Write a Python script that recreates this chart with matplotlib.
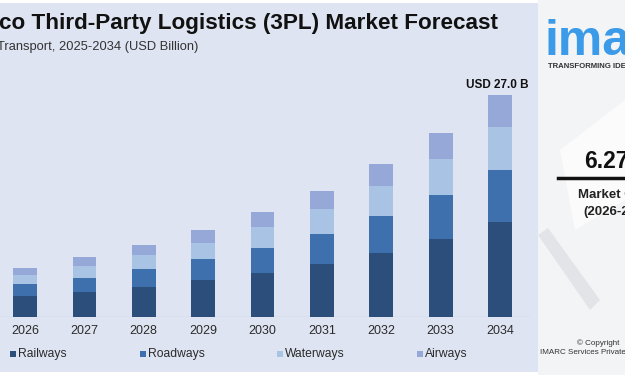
import matplotlib.pyplot as plt
import numpy as np
from matplotlib.patches import Rectangle, Polygon

# data (USD Billion)
years = ["2026", "2027", "2028", "2029", "2030", "2031", "2032", "2033", "2034"]
railways = [2.52, 3.04, 3.65, 4.47, 5.41, 6.50, 7.84, 9.55, 11.53]
roadways = [1.46, 1.75, 2.15, 2.56, 3.04, 3.62, 4.46, 5.36, 6.42]
waterways = [1.18, 1.38, 1.71, 2.03, 2.47, 3.01, 3.62, 4.30, 5.15]
airways = [0.80, 1.10, 1.30, 1.50, 1.86, 2.19, 2.72, 3.20, 3.90]
segments = ["Railways", "Roadways", "Waterways", "Airways"]
colors = ["#2c4e7b", "#3e70ad", "#a8c3e4", "#96a8d8"]
total_label = "USD 27.0 B"

W, H = 625, 375
plt.rcParams['font.family'] = ['Liberation Sans', 'DejaVu Sans']


def fx(x):
    return x / W


def fy(y):
    return 1 - y / H


fig = plt.figure(figsize=(6.25, 3.75), dpi=100)
fig.patch.set_facecolor("white")

# panels (behind the axes)
fig.patches.append(Rectangle((fx(0), fy(372)), fx(538), 369 / H, transform=fig.transFigure,
                             facecolor="#dee4f2", edgecolor="none", zorder=-3))
fig.patches.append(Rectangle((fx(538), 0), fx(87), 1, transform=fig.transFigure,
                             facecolor="#f3f4f6", edgecolor="none", zorder=-3))
fig.patches.append(Polygon([(fx(538), fy(235)), (fx(548), fy(228)), (fx(600), fy(300)), (fx(590), fy(310))],
                           closed=True, transform=fig.transFigure, facecolor="#e2e4e8", edgecolor="none",
                           zorder=-2))
fig.patches.append(Polygon([(fx(560), fy(150)), (fx(625), fy(100)), (fx(625), fy(200)), (fx(575), fy(230))],
                           closed=True, transform=fig.transFigure, facecolor="#fbfbfc", edgecolor="none",
                           zorder=-2))

# bar axes
ax = fig.add_axes([fx(0), fy(317), fx(530), (317 - 60) / H])
ax.set_facecolor("none")
x = np.arange(len(years))
bottom = np.zeros(len(years))
for vals, c in zip([railways, roadways, waterways, airways], colors):
    ax.bar(x, vals, width=0.4, bottom=bottom, color=c, zorder=2)
    bottom += np.array(vals)

ax.set_xlim(-25 / 59.375, 505 / 59.375)
ax.set_ylim(0, 257 / 8.21)
ax.axhline(0, color="#c9cfdc", linewidth=1, zorder=1)
for s in ax.spines.values():
    s.set_visible(False)
ax.set_yticks([])
ax.set_xticks(x)
ax.set_xticklabels(years, fontsize=9, color="#2b2b2b")
ax.tick_params(axis="x", length=0, pad=6)

ax.text(x[-1] - 0.05, bottom[-1] + 0.5, total_label, ha="center", va="bottom",
        fontsize=8.5, fontweight="bold", color="#111111")

# title
fig.text(fx(-1), fy(23), "co Third-Party Logistics (3PL) Market Forecast", ha="left", va="center",
         fontsize=16.2, fontweight="bold", color="#111111")
fig.text(fx(-3), fy(47), "Transport, 2025-2034 (USD Billion)", ha="left", va="center",
         fontsize=9.3, color="#333333")

# legend
leg_x = [10, 140, 277, 417]
for lx, name, c in zip(leg_x, segments, colors):
    fig.patches.append(Rectangle((fx(lx), fy(357)), fx(6), 6 / H, transform=fig.transFigure,
                                 facecolor=c, edgecolor="none"))
    fig.text(fx(lx + 8), fy(353.5), name, ha="left", va="center", fontsize=8.7, color="#2b2b2b")

# right panel
fig.text(fx(545), fy(55), "imarc", ha="left", va="baseline", fontsize=36, fontweight="bold",
         color="#3c9be8")
fig.text(fx(548), fy(67), "TRANSFORMING IDEAS INTO IMPACT", ha="left", va="center",
         fontsize=5.6, fontweight="bold", color="#333333")
fig.text(fx(584), fy(161), "6.27%", ha="left", va="center", fontsize=16.5, fontweight="bold",
         color="#111111")
fig.lines.append(plt.Line2D([fx(558), fx(625)], [fy(178), fy(178)], transform=fig.transFigure,
                            color="#111111", linewidth=2.5))
fig.text(fx(578), fy(195), "Market Growth", ha="left", va="center", fontsize=9.5, fontweight="bold",
         color="#222222")
fig.text(fx(583), fy(212), "(2026-2034)", ha="left", va="center", fontsize=9.5, fontweight="bold",
         color="#222222")
fig.text(fx(577), fy(343), "\u00a9 Copyright", ha="left", va="center", fontsize=5.8, color="#333333")
fig.text(fx(540), fy(353), "IMARC Services Private Limited", ha="left", va="center", fontsize=5.8,
         color="#333333")

fig.savefig("out.png", dpi=100)
